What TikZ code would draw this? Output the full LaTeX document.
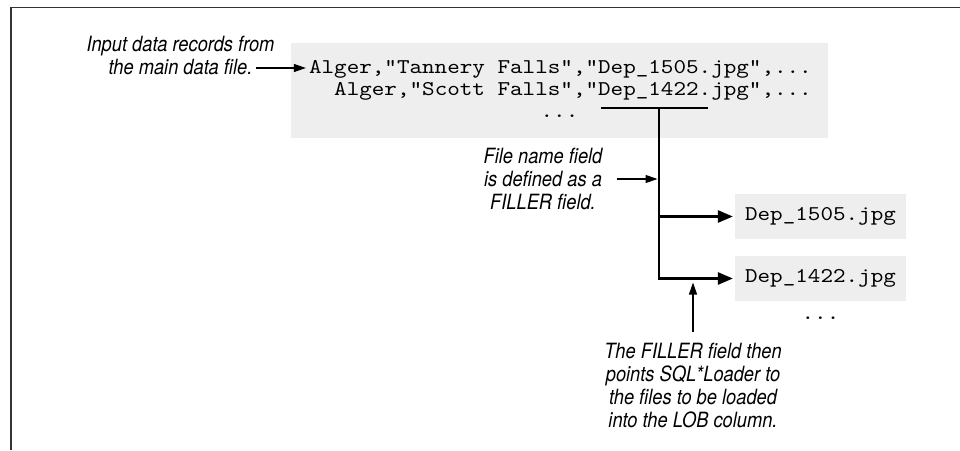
\documentclass[tikz,border=0pt]{standalone}
\usepackage{fontspec}
\setmonofont{lmmono10-regular.otf}[FakeStretch=1.14]
\newfontfamily\notefont{TeX Gyre Heros}[FakeStretch=0.87]
\usetikzlibrary{positioning}
\usetikzlibrary{arrows.meta}
\definecolor{boxgray}{HTML}{EEEEEE}
\tikzset{
    note/.style={font=\notefont\itshape\fontsize{21}{23}\selectfont, align=center, inner sep=0pt},
    code/.style={font=\ttfamily\fontsize{21}{22}\selectfont, inner sep=0pt},
    codebox/.style={fill=boxgray},
    pointer/.style={line width=1.1pt, -{Triangle[length=12pt,width=8pt]}},
    branch/.style={line width=2.6pt, -{Triangle[length=15pt,width=12pt]}},
}

\begin{document}
\begin{tikzpicture}[x=1pt,y=-1pt]
        \useasboundingbox (0,0) rectangle (960,450);
        \draw[line width=1.6pt, black!80] (960,7.5) -- (11,7.5) -- (11,450);
        % input data records
        \node[codebox, minimum width=537pt, minimum height=95pt] (records) at (559.5,90.5) {};
        \node[code, anchor=base east] (rec1) at (812,73) {Alger,"Tannery Falls","Dep\_1505.jpg",...};
        \node[code, anchor=base east] (rec2) at (812,95) {Alger,"Scott Falls","Dep\_1422.jpg",...};
        \node[code, anchor=base] (recdots) at (559.5,117) {...};
        \node[note] (inlabel) at (180.5,55) {Input data records from\\the main data file.};
        \coordinate (intail) at (256,68);
        \draw[pointer, shorten >=3pt] (intail) -- (intail -| rec1.west);
        % file name field
        \coordinate (barL) at (601,108);
        \coordinate (barR) at (708,108);
        \coordinate (trunk) at (659,108);
        \draw[line width=2.6pt] (barL) -- (barR);
        \node[code, codebox, inner xsep=10pt, minimum height=45pt] (file1) at (820.5,216.5) {Dep\_1505.jpg};
        \node[code, codebox, inner xsep=10pt, minimum height=45pt] (file2) at (820.5,278.5) {Dep\_1422.jpg};
        \node[code, below=15pt of file2] (filedots) {...};
        \draw[branch, shorten >=2pt] (trunk) |- (file2.west);
        \draw[branch, shorten >=2pt] (trunk |- file1.west) -- (file1.west);
        % notes
        \node[note] (fillnote) at (543,179) {File name field\\is defined as a\\FILLER field.};
        \draw[pointer, shorten <=14pt, shorten >=1.5pt] (fillnote.east) -- (fillnote.east -| trunk);
        \node[note] (lobnote) at (693,385) {The FILLER field then\\points SQL*Loader to\\the files to be loaded\\into the LOB column.};
        \draw[pointer, shorten <=10pt, shorten >=4pt] (lobnote.north) -- (lobnote.north |- file2.west);
    \end{tikzpicture}
\end{document}
